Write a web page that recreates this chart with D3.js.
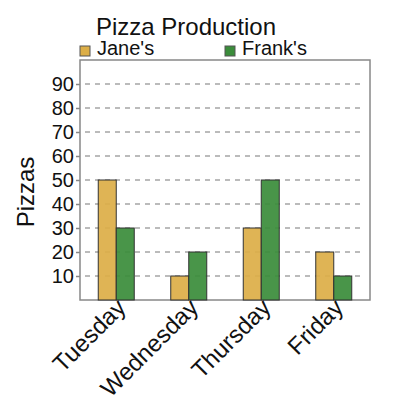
<!DOCTYPE html>
<html>
<head>
<meta charset="utf-8">
<script src="https://cdn.jsdelivr.net/npm/d3@7"></script>
<style>
  body { margin: 0; background: #fff; }
  text { font-family: "Liberation Sans", Arial, sans-serif; fill: #111; }
</style>
</head>
<body>
<div id="chart"></div>
<script>
// the data
const days = ["Tuesday", "Wednesday", "Thursday", "Friday"];
const series = ["Jane's", "Frank's"];
const janes = [50, 10, 30, 20];
const franks = [30, 20, 50, 10];
const yTicks = [10, 20, 30, 40, 50, 60, 70, 80, 90];

// box
const margin = { top: 60, right: 30, bottom: 100, left: 80 };
const width = 400 - margin.left - margin.right;
const height = 400 - margin.top - margin.bottom;

const svg = d3.select("#chart")
  .append("svg")
    .attr("width", 400)
    .attr("height", 400);

const g = svg.append("g")
  .attr("transform", `translate(${margin.left},${margin.top})`);

const color = d3.scaleOrdinal()
  .domain(series)
  .range(["#dcae47", "#3a8c3a"]);

// scales
const x = d3.scaleBand().domain(days).range([0, width]).padding(0);
const barW = 18;
const x1 = d3.scaleBand().domain(series).range([0, barW * 2]);
const y = d3.scaleLinear().domain([0, 100]).range([height, 0]);

// frame
g.append("rect")
  .attr("width", width)
  .attr("height", height)
  .attr("fill", "none")
  .attr("stroke", "#888")
  .attr("stroke-width", 1.5);

// dashed grid
g.append("g")
  .selectAll("line")
  .data(yTicks)
  .join("line")
    .attr("x1", 5)
    .attr("x2", width - 8)
    .attr("y1", d => y(d))
    .attr("y2", d => y(d))
    .attr("stroke", "#bbb")
    .attr("stroke-width", 2)
    .attr("stroke-dasharray", "5,5");

// y axis
const yAxis = g.append("g")
  .call(d3.axisLeft(y).tickValues(yTicks).tickSize(4).tickPadding(2));
yAxis.select(".domain").remove();
yAxis.selectAll(".tick line").attr("stroke", "#888").attr("stroke-width", 1.5);
yAxis.selectAll("text").style("font-size", "20px").style("font-family", "Liberation Sans, Arial, sans-serif").attr("fill", "#111");

// bars
const rows = days.map((d, i) => ({ day: d, values: [janes[i], franks[i]] }));
g.append("g")
  .selectAll("g")
  .data(rows)
  .join("g")
    .attr("transform", d => `translate(${x(d.day) + x.bandwidth() / 2 - barW},0)`)
  .selectAll("rect")
  .data(d => d.values.map((v, j) => ({ key: series[j], value: v })))
  .join("rect")
    .attr("x", d => x1(d.key))
    .attr("y", d => y(d.value))
    .attr("width", x1.bandwidth())
    .attr("height", d => height - y(d.value))
    .attr("fill", d => color(d.key))
    .attr("fill-opacity", 0.92)
    .attr("stroke", "#333")
    .attr("stroke-width", 1);

// x labels
const xAxis = g.append("g")
  .attr("transform", `translate(0,${height})`)
  .call(d3.axisBottom(x).tickSize(0).tickPadding(0));
xAxis.select(".domain").remove();
xAxis.selectAll("text")
  .style("font-size", "24px")
  .style("font-family", "Liberation Sans, Arial, sans-serif")
  .attr("fill", "#111")
  .style("text-anchor", "end")
  .attr("dy", null)
  .attr("y", 0)
  .attr("transform", "translate(11,9) rotate(-45)");

// y title
svg.append("text")
  .attr("transform", "translate(34,192) rotate(-90)")
  .attr("text-anchor", "middle")
  .style("font-size", "24px")
  .text("Pizzas");

// title
svg.append("text")
  .attr("x", 186)
  .attr("y", 35)
  .attr("text-anchor", "middle")
  .style("font-size", "24px")
  .text("Pizza Production");

// legend
const legend = svg.append("g")
  .selectAll("g")
  .data(series)
  .join("g")
    .attr("transform", (d, i) => `translate(${margin.left + i * width / 2},46)`);
legend.append("rect")
  .attr("width", 10)
  .attr("height", 10)
  .attr("fill", d => color(d))
  .attr("stroke", "#555")
  .attr("stroke-width", 1);
legend.append("text")
  .attr("x", 17)
  .attr("y", 9)
  .style("font-size", "20px")
  .text(d => d);
</script>
</body>
</html>
